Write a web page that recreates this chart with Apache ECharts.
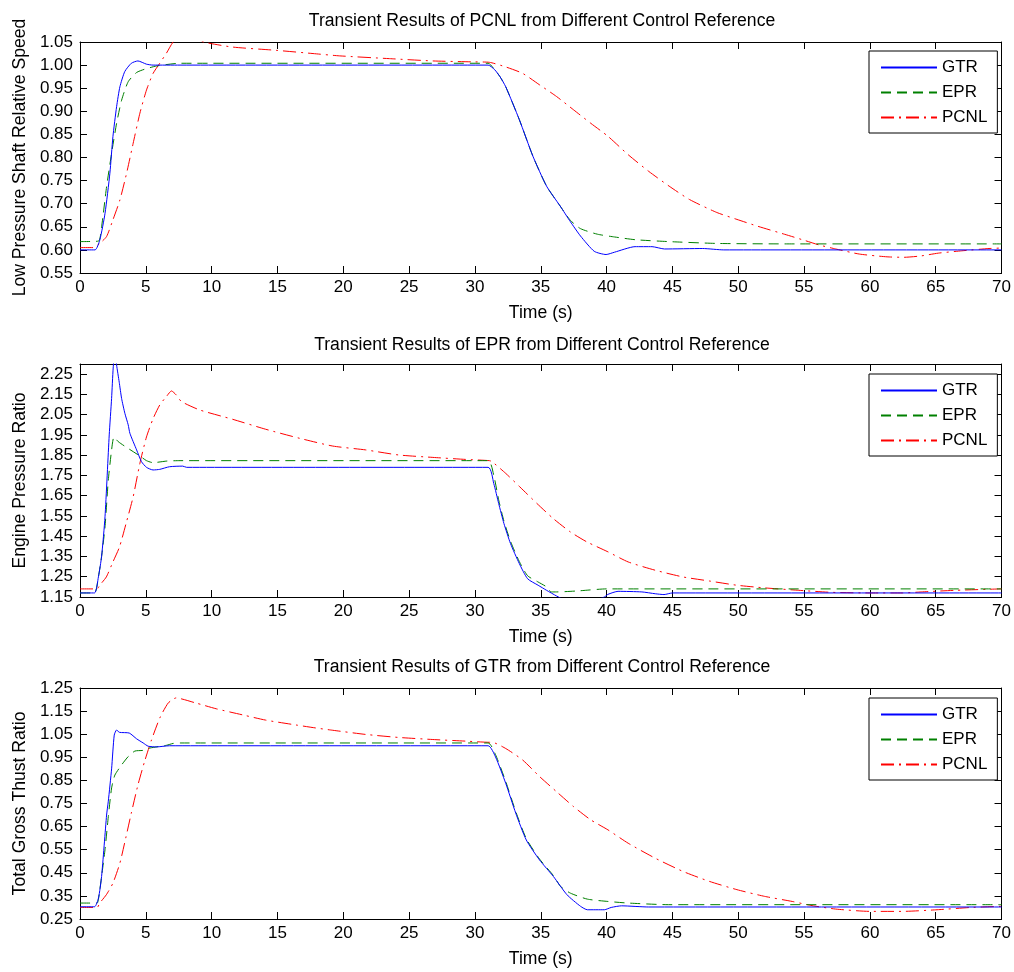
<!DOCTYPE html>
<html>
<head>
<meta charset="utf-8">
<script src="https://cdn.jsdelivr.net/npm/echarts@6/dist/echarts.min.js"></script>
<style>
html,body{margin:0;padding:0;background:#fff;}
#chart{width:1014px;height:972px;}
</style>
</head>
<body>
<div id="chart"></div>
<script>
// ---------- data ----------
const seriesNames = ['GTR', 'EPR', 'PCNL'];
const panelTitles = [
  'Transient Results of PCNL from Different Control Reference',
  'Transient Results of EPR from Different Control Reference',
  'Transient Results of GTR from Different Control Reference'
];
const yNames = ['Low Pressure Shaft Relative Speed', 'Engine Pressure Ratio', 'Total Gross Thust Ratio'];
const xName = 'Time (s)';
const xRange = [0, 70, 5];
const yRanges = [[0.55, 1.05, 0.05], [1.15, 2.30, 0.1], [0.25, 1.25, 0.1]];

// Panel 1: Low pressure shaft relative speed
const lpsGTR = [[0,0.600],[1.14,0.600],[1.5,0.621],[1.9,0.679],[2.27,0.766],[2.5,0.845],[2.78,0.91],[3.03,0.953],[3.4,0.986],[3.9,1.004],[4.4,1.009],[5.05,1.002],[5.55,1.0],[7.6,1.0],[31.0,1.0],[31.5,0.99],[31.9,0.975],[32.34,0.953],[33.37,0.882],[34.4,0.803],[35.44,0.738],[36.47,0.695],[37.25,0.661],[38.02,0.630],[39.06,0.597],[39.96,0.590],[40.6,0.595],[42.16,0.607],[43.45,0.607],[44.4,0.602],[47.3,0.603],[48.9,0.600],[70,0.600]];
const lpsEPR = [[0,0.618],[1.4,0.619],[1.64,0.65],[2.02,0.737],[2.4,0.809],[2.78,0.874],[3.16,0.924],[3.66,0.964],[4.3,0.984],[4.9,0.991],[5.8,0.998],[7.6,1.004],[31.0,1.004],[31.5,0.99],[31.9,0.975],[32.34,0.953],[33.37,0.882],[34.4,0.803],[35.44,0.738],[36.47,0.695],[37.25,0.664],[38.02,0.646],[39.3,0.634],[40.6,0.628],[42.2,0.622],[44.7,0.618],[48.4,0.614],[53.5,0.613],[70,0.613]];
const lpsPCNL = [[0,0.605],[1.0,0.605],[1.5,0.614],[2.02,0.629],[2.5,0.665],[3.03,0.708],[3.54,0.766],[4.04,0.831],[4.55,0.896],[5.05,0.946],[5.55,0.982],[6.06,1.004],[6.57,1.026],[7.2,1.054],[8.3,1.058],[9.6,1.0485],[11.6,1.039],[14.9,1.032],[17.7,1.025],[19.7,1.02],[23.5,1.014],[26.8,1.009],[29.8,1.007],[31.1,1.006],[32.34,0.996],[33.63,0.982],[34.92,0.957],[36.2,0.932],[37.5,0.903],[38.8,0.874],[40.1,0.846],[41.64,0.806],[43.2,0.77],[44.75,0.738],[46.3,0.709],[48.37,0.681],[49.9,0.666],[51.5,0.651],[53.5,0.634],[55.1,0.62],[56.1,0.611],[57.4,0.602],[59.2,0.591],[61.3,0.585],[62.6,0.584],[63.9,0.587],[65.2,0.593],[66.98,0.598],[69.05,0.603],[70,0.604]];

// Panel 2: Engine pressure ratio
const eprGTR = [[0,1.17],[1.1,1.17],[1.4,1.25],[1.64,1.35],[1.9,1.546],[2.22,1.95],[2.4,2.13],[2.52,2.28],[2.65,2.37],[2.78,2.295],[2.98,2.21],[3.16,2.13],[3.41,2.056],[3.66,2.0],[3.79,1.958],[4.3,1.876],[4.67,1.818],[5.05,1.79],[5.55,1.777],[6.06,1.78],[6.8,1.793],[7.8,1.796],[8.1,1.79],[31.0,1.79],[31.43,1.71],[31.8,1.612],[32.2,1.513],[32.7,1.414],[33.37,1.315],[34.0,1.24],[34.8,1.208],[35.44,1.183],[36.2,1.155],[37.0,1.13],[38.5,1.12],[39.83,1.15],[40.1,1.163],[40.87,1.178],[42.68,1.175],[43.7,1.166],[44.36,1.162],[45.0,1.17],[70,1.17]];
const eprEPR = [[0,1.17],[1.1,1.17],[1.4,1.25],[1.64,1.35],[1.9,1.496],[2.15,1.727],[2.4,1.876],[2.58,1.94],[2.9,1.917],[3.5,1.89],[4.55,1.846],[5.05,1.823],[5.55,1.813],[6.6,1.821],[7.6,1.823],[31.0,1.823],[31.43,1.75],[31.8,1.63],[32.2,1.525],[32.7,1.425],[33.37,1.325],[34.0,1.255],[34.8,1.224],[35.44,1.2],[35.8,1.175],[36.2,1.175],[37.8,1.18],[40.0,1.19],[70,1.19]];
const eprPCNL = [[0,1.19],[1.3,1.19],[1.5,1.208],[2.0,1.249],[2.5,1.323],[3.0,1.397],[3.5,1.513],[4.04,1.645],[4.55,1.81],[5.05,1.94],[5.55,2.03],[6.06,2.098],[6.57,2.14],[6.95,2.167],[7.3,2.148],[7.7,2.115],[9.1,2.073],[11.6,2.027],[14.1,1.978],[16.7,1.933],[19.2,1.895],[21.7,1.876],[24.2,1.851],[26.8,1.839],[29.3,1.829],[31.1,1.823],[31.3,1.818],[32.34,1.76],[33.4,1.694],[34.7,1.612],[35.95,1.537],[37.25,1.471],[38.5,1.422],[40.1,1.373],[41.64,1.323],[43.7,1.282],[45.8,1.249],[47.8,1.229],[49.9,1.208],[52.0,1.195],[54.6,1.183],[57.1,1.173],[60.0,1.17],[62.5,1.17],[63.9,1.175],[66.5,1.183],[70,1.19]];

// Panel 3: Total gross thrust ratio
const gtrGTR = [[0,0.303],[1.1,0.303],[1.4,0.34],[1.64,0.434],[2.02,0.70],[2.15,0.76],[2.4,0.90],[2.6,1.046],[2.78,1.068],[3.0,1.058],[3.74,1.055],[4.3,1.03],[4.8,1.012],[5.18,0.998],[5.8,0.995],[6.8,1.0],[31.0,1.0],[31.56,0.952],[32.34,0.837],[33.1,0.708],[33.9,0.592],[34.9,0.506],[35.96,0.434],[36.99,0.355],[38.02,0.305],[38.54,0.29],[39.83,0.29],[40.35,0.30],[41.13,0.307],[43.2,0.302],[70,0.302]];
const gtrEPR = [[0,0.319],[1.3,0.319],[1.4,0.335],[1.64,0.434],[1.9,0.55],[2.15,0.693],[2.4,0.817],[2.65,0.873],[3.16,0.917],[3.66,0.953],[4.17,0.977],[4.8,0.98],[5.3,0.99],[6.57,1.002],[7.07,1.01],[7.6,1.012],[31.0,1.012],[31.56,0.962],[32.34,0.845],[33.1,0.715],[33.9,0.598],[34.9,0.51],[35.96,0.438],[36.5,0.391],[37.25,0.362],[38.54,0.336],[40.1,0.326],[41.64,0.319],[44.7,0.312],[70,0.312]];
const gtrPCNL = [[0,0.30],[1.3,0.30],[1.5,0.319],[2.0,0.355],[2.5,0.405],[3.03,0.492],[3.5,0.607],[3.9,0.709],[4.4,0.83],[4.9,0.931],[5.43,1.025],[6.06,1.12],[6.7,1.185],[7.3,1.207],[8.8,1.185],[10.35,1.16],[12.4,1.133],[14.1,1.111],[16.4,1.09],[17.9,1.077],[19.2,1.067],[21.7,1.049],[24.2,1.036],[26.8,1.027],[29.3,1.02],[31.1,1.015],[31.3,1.015],[32.34,0.988],[33.63,0.938],[34.92,0.866],[36.2,0.801],[37.5,0.736],[38.8,0.679],[40.1,0.636],[41.64,0.578],[43.7,0.513],[45.8,0.456],[47.8,0.413],[49.9,0.377],[52.0,0.348],[54.1,0.326],[55.6,0.308],[57.4,0.293],[60.0,0.283],[62.5,0.283],[65.1,0.29],[67.7,0.30],[70,0.305]];

const panelData = [
  [lpsGTR, lpsEPR, lpsPCNL],
  [eprGTR, eprEPR, eprPCNL],
  [gtrGTR, gtrEPR, gtrPCNL]
];

// ---------- styling / layout ----------
const FONT = "'Liberation Sans', Arial, Helvetica, sans-serif";
const FS = 17;
const FS_NAME = 17.6;
const colors = ['#0000ff', '#008000', '#ff0000'];
const dashes = ['solid', [10, 6], [13, 5, 2, 5]];
const gridLayout = [{top: 42, height: 231}, {top: 364, height: 233}, {top: 688, height: 231}];
const titleTops = [12, 336, 658];
const legendTops = [51, 374, 698];

const grid = [], xAxis = [], yAxis = [], series = [], title = [], legend = [];
const axisLineStyle = {color: '#000', width: 1};
const labelStyle = {color: '#000', fontSize: FS, fontFamily: FONT};
const nameStyle = {color: '#000', fontSize: FS_NAME, fontFamily: FONT};

gridLayout.forEach((g, i) => {
  grid.push({left: 80, width: 924, top: g.top, height: g.height, containLabel: false});
  const xBase = {
    gridIndex: i, type: 'value', min: xRange[0], max: xRange[1], interval: xRange[2],
    axisLine: {show: true, onZero: false, lineStyle: axisLineStyle},
    axisTick: {show: true, inside: true, length: 7, lineStyle: axisLineStyle},
    splitLine: {show: false}
  };
  xAxis.push(Object.assign({}, xBase, {
    position: 'bottom',
    axisLabel: Object.assign({margin: 6}, labelStyle),
    name: xName, nameLocation: 'middle', nameGap: 31,
    nameTextStyle: nameStyle
  }));
  xAxis.push(Object.assign({}, xBase, {position: 'top', axisLabel: {show: false}}));
  const yr = yRanges[i];
  const yBase = {
    gridIndex: i, type: 'value', min: yr[0], max: yr[1], interval: yr[2],
    axisLine: {show: true, onZero: false, lineStyle: axisLineStyle},
    axisTick: {show: true, inside: true, length: 7, lineStyle: axisLineStyle},
    splitLine: {show: false}
  };
  yAxis.push(Object.assign({}, yBase, {
    position: 'left',
    axisLabel: Object.assign({margin: 7, showMaxLabel: i !== 1, formatter: v => v.toFixed(2)}, labelStyle),
    name: yNames[i], nameLocation: 'middle', nameGap: 51, nameRotate: 90,
    nameTextStyle: nameStyle
  }));
  yAxis.push(Object.assign({}, yBase, {position: 'right', axisLabel: {show: false}}));

  title.push({
    text: panelTitles[i], left: 542, top: titleTops[i], textAlign: 'center', padding: 0,
    textStyle: {fontSize: FS_NAME, fontWeight: 'normal', color: '#000', fontFamily: FONT}
  });

  legend.push({
    data: seriesNames, orient: 'vertical', left: 869, top: legendTops[i],
    itemWidth: 56, itemHeight: 14, itemGap: 8,
    padding: [8, 10, 7, 11],
    borderColor: '#000', borderWidth: 1, backgroundColor: '#fff',
    selectedMode: false,
    itemStyle: {color: 'rgba(0,0,0,0)', borderColor: 'rgba(0,0,0,0)', borderWidth: 0, opacity: 0},
    textStyle: {fontSize: FS, color: '#000', fontFamily: FONT}
  });

  panelData[i].forEach((d, k) => {
    series.push({
      name: seriesNames[k], type: 'line', data: d,
      xAxisIndex: 2 * i, yAxisIndex: 2 * i,
      showSymbol: false, symbol: 'none', smooth: 0.2, clip: true,
      lineStyle: {color: colors[k], width: 1, type: dashes[k]},
      itemStyle: {color: colors[k]},
      emphasis: {disabled: true}, silent: true, z: 3 - k
    });
  });
});

const chart = echarts.init(document.getElementById('chart'), null, {renderer: 'canvas'});
chart.setOption({
  animation: false,
  backgroundColor: '#fff',
  textStyle: {fontFamily: FONT},
  title, legend, grid, xAxis, yAxis, series
});
</script>
</body>
</html>
